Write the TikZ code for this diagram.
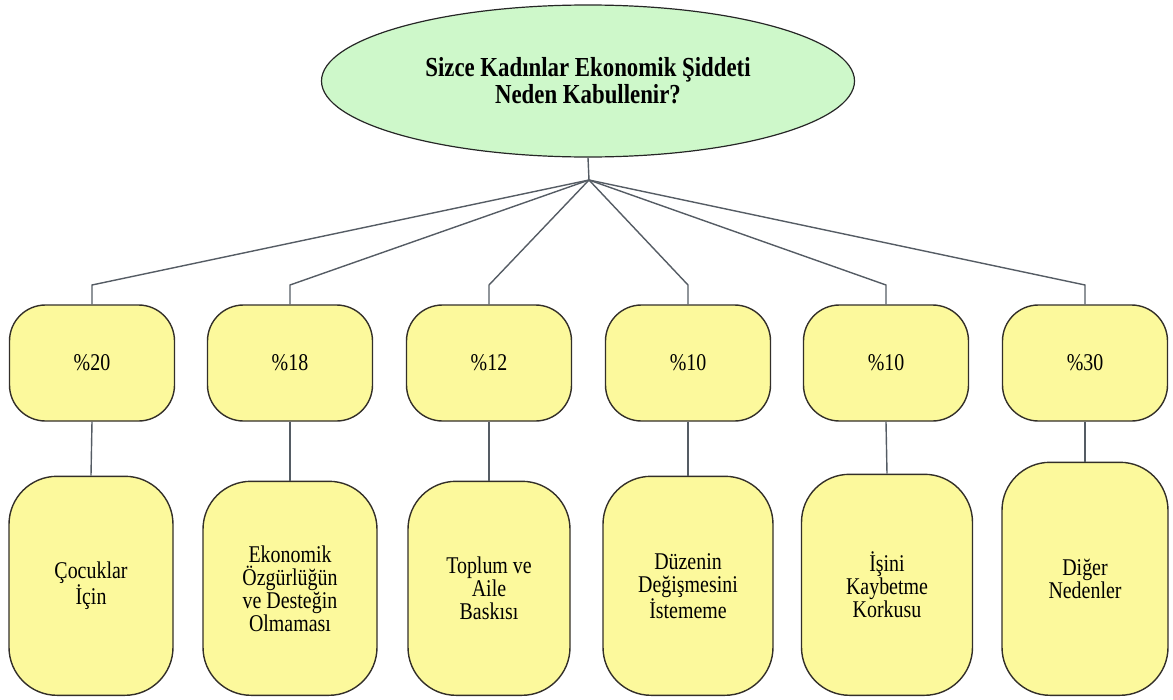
\documentclass[tikz,border=0pt]{standalone}
\usepackage{fontspec}
\setmainfont{Liberation Serif}[FakeStretch=0.83]
\usetikzlibrary{positioning}
\usetikzlibrary{shapes.geometric, arrows}
\usepackage{xcolor}
\definecolor{qgreen}{RGB}{206,248,202}
\definecolor{boxyellow}{RGB}{252,249,156}
\definecolor{linegray}{RGB}{85,92,100}

\begin{document}
\begin{tikzpicture}[x=1pt,y=-1pt,
    question/.style = {draw=black!85, line width=1.2pt, fill=qgreen, ellipse, minimum width=533, minimum height=152, align=center, font=\fontsize{27.5}{27}\selectfont\bfseries},
    pct/.style = {draw=black!85!olive, line width=1.4pt, fill=boxyellow, rectangle, rounded corners=36pt, minimum width=165, minimum height=116, font=\fontsize{24}{23}\selectfont},
    cause/.style = {draw=black!85!olive, line width=1.4pt, fill=boxyellow, rectangle, rounded corners=48pt, minimum height=219, anchor=south, align=center, font=\fontsize{24}{23}\selectfont},
    link/.style = {draw=linegray, line width=1.4pt}]
        \useasboundingbox (0,0) rectangle (1173,699);
        \node[question] (q) at (588,81) {Sizce Kadınlar Ekonomik Şiddeti\\Neden Kabullenir?};
        \coordinate (hub) at (589,180);
        \coordinate (bend) at (0,285);
        % percentages
        \node[pct] (p1) at (92,363) {\%20};
        \node[pct] (p2) at (290,363) {\%18};
        \node[pct] (p3) at (489,363) {\%12};
        \node[pct] (p4) at (688,363) {\%10};
        \node[pct] (p5) at (886,363) {\%10};
        \node[pct] (p6) at (1085,363) {\%30};
        % reasons
        \node[cause, minimum width=164, minimum height=219] (c1) at (91,696) {Çocuklar\\İçin};
        \node[cause, minimum width=174, minimum height=214] (c2) at (290,696) {Ekonomik\\Özgürlüğün\\ve Desteğin\\Olmaması};
        \node[cause, minimum width=162, minimum height=214] (c3) at (489,696) {Toplum ve\\Aile\\Baskısı};
        \node[cause, minimum width=170, minimum height=219] (c4) at (688,696) {Düzenin\\Değişmesini\\İstememe};
        \node[cause, minimum width=171, minimum height=221] (c5) at (887,696) {İşini\\Kaybetme\\Korkusu};
        \node[cause, minimum width=166, minimum height=233] (c6) at (1085,696) {Diğer\\Nedenler};
        \draw[link] (q.south) -- (hub);
        \foreach \i in {1,...,6} {
          \draw[link] (hub) -- (p\i.north |- bend) -- (p\i.north);
          \draw[link] (p\i.south) -- (c\i.north);
        }
      \end{tikzpicture}
\end{document}
